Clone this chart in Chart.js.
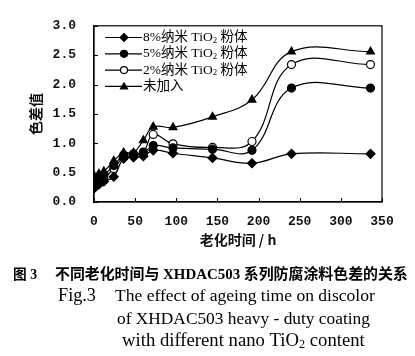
<!DOCTYPE html>
<html><head><meta charset="utf-8">
<script src="https://cdn.jsdelivr.net/npm/chart.js@4.4.0/dist/chart.umd.min.js"></script>
<style>html,body{margin:0;padding:0;background:#fff}#wrap{width:415px;height:356px;position:relative}</style>
</head><body><div id="wrap"><canvas id="c" width="415" height="356"></canvas></div>
<script>
const hours = [0, 6, 12, 24, 36, 48, 60, 72, 96, 144, 192, 240, 336];
const nano8 = [0.23, 0.30, 0.35, 0.43, 0.74, 0.76, 0.78, 0.88, 0.83, 0.75, 0.66, 0.82, 0.82];
const nano5 = [0.38, 0.43, 0.46, 0.62, 0.80, 0.82, 0.84, 0.96, 0.92, 0.90, 0.88, 1.94, 1.94];
const nano2 = [0.33, 0.36, 0.40, 0.57, 0.76, 0.79, 0.85, 1.15, 0.99, 0.93, 1.03, 2.34, 2.34];
const noAdd = [0.45, 0.48, 0.52, 0.70, 0.84, 0.84, 1.05, 1.28, 1.27, 1.45, 1.74, 2.56, 2.56];
const seriesNames = ['8%纳米 TiO₂ 粉体', '5%纳米 TiO₂ 粉体', '2%纳米 TiO₂ 粉体', '未加入'];
const xTickValues = [0, 50, 100, 150, 200, 250, 300, 350];
const yTickValues = [0, 0.5, 1.0, 1.5, 2.0, 2.5, 3.0];
const yTitle = '色差值';
const xTitle = '老化时间 / h';
const captionCn = ['图 3', '不同老化时间与 XHDAC503 系列防腐涂料色差的关系'];
const captionEn = ['Fig.3', 'The effect of ageing time on discolor', 'of XHDAC503 heavy - duty coating', 'with different nano TiO₂ content'];

const styles = [
  {pointStyle: 'rectRot', bg: '#000', r: 4.5},
  {pointStyle: 'circle', bg: '#000', r: 4},
  {pointStyle: 'circle', bg: '#fff', r: 4},
  {pointStyle: 'triangle', bg: '#000', r: 4.5}
];
const seriesData = [nano8, nano5, nano2, noAdd];
const datasets = seriesData.map((arr, i) => ({
  label: seriesNames[i],
  data: hours.map((h, j) => ({x: h, y: arr[j]})),
  borderColor: '#000', borderWidth: 1.2, tension: 0.4,
  pointStyle: styles[i].pointStyle, pointRadius: styles[i].r,
  pointBackgroundColor: styles[i].bg, pointBorderColor: '#000', pointBorderWidth: 1.2,
  fill: false
}));

const MIX = '"Liberation Serif","Noto Sans CJK SC",serif';
function drawRich(ctx, text, x, y, size, weight) {
  const parts = text.split('₂');
  let cx = x;
  parts.forEach((p, i) => {
    ctx.font = weight + ' ' + size + 'px ' + MIX;
    ctx.fillText(p, cx, y);
    cx += ctx.measureText(p).width;
    if (i < parts.length - 1) {
      ctx.font = weight + ' ' + (size * 0.65) + 'px ' + MIX;
      ctx.fillText('2', cx, y + size * 0.22);
      cx += ctx.measureText('2').width;
    }
  });
  return cx - x;
}
function fitRich(ctx, text, x0, x1, y, weight) {
  ctx.save();
  ctx.textAlign = 'left'; ctx.textBaseline = 'middle';
  const c = document.createElement('canvas').getContext('2d');
  const parts = text.split('₂'); let w = 0;
  parts.forEach((p, i) => { c.font = weight + ' 100px ' + MIX; w += c.measureText(p).width; if (i < parts.length - 1) { c.font = weight + ' 65px ' + MIX; w += c.measureText('2').width; } });
  const size = 100 * (x1 - x0) / w;
  drawRich(ctx, text, x0, y, size, weight);
  ctx.restore();
}

const decor = {
  id: 'decor',
  afterDraw(chart) {
    const ctx = chart.ctx, a = chart.chartArea;
    const xs = chart.scales.x, ys = chart.scales.y;
    ctx.save();
    ctx.strokeStyle = '#000'; ctx.lineWidth = 1.2;
    ctx.strokeRect(a.left, a.top, a.right - a.left, a.bottom - a.top);
    ctx.lineWidth = 1;
    yTickValues.forEach(v => {
      const py = Math.round(ys.getPixelForValue(v)) + 0.5;
      ctx.beginPath(); ctx.moveTo(a.left, py); ctx.lineTo(a.left + 4, py); ctx.stroke();
    });
    xTickValues.forEach(v => {
      const px = Math.round(xs.getPixelForValue(v)) + 0.5;
      ctx.beginPath(); ctx.moveTo(px, a.bottom); ctx.lineTo(px, a.bottom - 4); ctx.stroke();
    });
    // legend
    seriesNames.forEach((name, i) => {
      const y = 37.5 + i * 16.3;
      ctx.lineWidth = 1.2; ctx.strokeStyle = '#000';
      ctx.beginPath(); ctx.moveTo(105, y); ctx.lineTo(142, y); ctx.stroke();
      ctx.fillStyle = styles[i].bg;
      ctx.beginPath();
      const s = styles[i].pointStyle, r = 3.5;
      if (s === 'circle') { ctx.arc(124, y, r, 0, Math.PI * 2); }
      else if (s === 'rectRot') { ctx.moveTo(124, y - r - 0.5); ctx.lineTo(124 + r + 0.5, y); ctx.lineTo(124, y + r + 0.5); ctx.lineTo(124 - r - 0.5, y); ctx.closePath(); }
      else { ctx.moveTo(124, y - r); ctx.lineTo(124 + r, y + r * 0.7); ctx.lineTo(124 - r, y + r * 0.7); ctx.closePath(); }
      ctx.fill(); ctx.stroke();
      ctx.fillStyle = '#000'; ctx.textAlign = 'left'; ctx.textBaseline = 'middle';
      drawRich(ctx, name, 143, y, 13.5, 'normal');
    });
    // captions
    ctx.fillStyle = '#000';
    fitRich(ctx, captionCn[0], 13, 37, 275, 'bold');
    fitRich(ctx, captionCn[1], 55, 408, 275, 'bold');
    fitRich(ctx, captionEn[0], 58, 96, 296, 'normal');
    fitRich(ctx, captionEn[1], 115, 375, 296, 'normal');
    fitRich(ctx, captionEn[2], 117, 370, 319, 'normal');
    fitRich(ctx, captionEn[3], 122, 365, 341, 'normal');
    ctx.restore();
  }
};

new Chart(document.getElementById('c'), {
  type: 'line',
  data: {datasets},
  options: {
    responsive: false, animation: false, devicePixelRatio: 1,
    layout: {padding: {top: 22, right: 33, bottom: 106, left: 0}},
    plugins: {legend: {display: false}, tooltip: {enabled: false}},
    scales: {
      x: {
        type: 'linear', min: 0, max: 350,
        afterFit: s => { s.height = 48; },
        afterBuildTicks: s => { s.ticks = xTickValues.map(v => ({value: v})); },
        ticks: {color: '#111', font: {family: '"Liberation Mono", monospace', size: 13, weight: 'bold'}, padding: 12, maxRotation: 0},
        grid: {drawOnChartArea: false, drawTicks: false},
        border: {display: true, color: '#000', width: 1.2},
        title: {display: true, text: xTitle, color: '#111', font: {family: '"Noto Sans CJK SC"', size: 14, weight: 'bold'}, padding: {top: 0, bottom: 2}}
      },
      y: {
        type: 'linear', min: 0, max: 3,
        afterFit: s => { s.width = 94; },
        afterBuildTicks: s => { s.ticks = yTickValues.map(v => ({value: v})); },
        ticks: {color: '#111', font: {family: '"Liberation Mono", monospace', size: 13, weight: 'bold'}, padding: 18, callback: v => v.toFixed(1)},
        grid: {drawOnChartArea: false, drawTicks: false},
        border: {display: true, color: '#000', width: 1.2},
        title: {display: true, text: yTitle, color: '#111', font: {family: '"Noto Sans CJK SC"', size: 14, weight: 'bold'}, padding: {top: 27, bottom: 27}}
      }
    }
  },
  plugins: [decor]
});
</script></body></html>
